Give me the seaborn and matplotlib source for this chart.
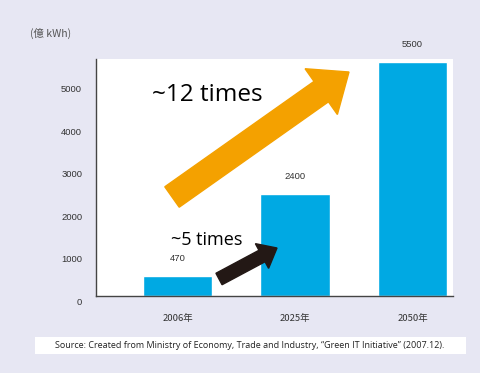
import matplotlib
matplotlib.use("Agg")
import matplotlib.pyplot as plt
import matplotlib.patches as mpatches
from matplotlib.transforms import Affine2D, ScaledTranslation
import seaborn as sns
import pandas as pd

# ---- data ----
years = ["2006年", "2025年", "2050年"]
values = [470, 2400, 5500]
yticks = [0, 1000, 2000, 3000, 4000, 5000]
unit_label = "(億 kWh)"
big_note = "~12 times"
small_note = "~5 times"
source_text = "Source: Created from Ministry of Economy, Trade and Industry, \u201cGreen IT Initiative\u201d (2007.12)."

BG = "#e7e7f3"
BAR = "#00a9e3"
ORANGE = "#f4a100"
DARK = "#231815"

sns.set_theme(style="white")
plt.rcParams["font.family"] = ["Noto Sans CJK JP", "DejaVu Sans"]

W, H = 481, 373
fig = plt.figure(figsize=(W / 100, H / 100), dpi=100, facecolor=BG)
ax = fig.add_axes([96 / W, (H - 296) / H, (453 - 96) / W, (296 - 59) / H])
ax.set_facecolor("white")

df = pd.DataFrame({"year": years, "value": values})
sns.barplot(data=df, x="year", y="value", color=BAR, saturation=1, width=0.59, ax=ax)

ax.set_xlim(-0.694, 2.345)
ax.set_ylim(0, 5560)
ax.set_yticks(yticks)
ax.set_xlabel("")
ax.set_ylabel("")
for s in ["top", "right"]:
    ax.spines[s].set_visible(False)
for s in ["left", "bottom"]:
    ax.spines[s].set_color("#444444")
    ax.spines[s].set_linewidth(1.0)
ax.tick_params(axis="both", length=0, labelsize=6.8, colors="#333333")
ax.tick_params(axis="y", pad=10)
ax.tick_params(axis="x", pad=13)
for lab in ax.get_yticklabels():
    lab.set_transform(lab.get_transform() + ScaledTranslation(0, -4 / 72, fig.dpi_scale_trans))
    lab.set_fontfamily(["Liberation Sans", "DejaVu Sans"])
for lab in ax.get_xticklabels():
    lab.set_fontfamily(["Noto Sans CJK JP", "DejaVu Sans"])

for i, v in enumerate(values):
    ax.annotate(str(v), (i, v), xytext=(0, 9), textcoords="offset points",
                ha="center", va="bottom", fontsize=6.8, color="#333333",
                family=["Liberation Sans", "DejaVu Sans"], annotation_clip=False)

# pixel-space transform (image coords, y down)
pix = Affine2D().scale(1, -1).translate(0, H)

def arrow(x0, y0, x1, y1, w, hw, hl, color):
    p = mpatches.FancyArrow(x0, y0, x1 - x0, y1 - y0, width=w, head_width=hw,
                            head_length=hl, length_includes_head=True,
                            color=color, transform=pix, zorder=5)
    fig.patches.append(p)

arrow(172, 197, 349, 72, 25, 56, 34, ORANGE)
arrow(219, 279, 277, 248, 13, 28, 17, DARK)

fig.text(152 / W, 1 - 95 / H, big_note, fontsize=17.5, color="black",
         family=["Open Sans", "DejaVu Sans"], va="center", ha="left")
fig.text(171 / W, 1 - 240 / H, small_note, fontsize=13, color="black",
         family=["Open Sans", "DejaVu Sans"], va="center", ha="left")

fig.text(30 / W, 1 - 33 / H, unit_label, fontsize=7.5, color="#555555",
         va="center", ha="left")

fig.patches.append(mpatches.Rectangle((35 / W, 1 - 354 / H), (466 - 35) / W, 17 / H,
                                      transform=fig.transFigure, facecolor="white",
                                      edgecolor="none", zorder=1))
fig.text(250 / W, 1 - 345.5 / H, source_text, fontsize=6.5, color="#222222",
         family=["Open Sans", "DejaVu Sans"], va="center", ha="center", zorder=2)

fig.savefig("out.png", dpi=100, facecolor=BG)
